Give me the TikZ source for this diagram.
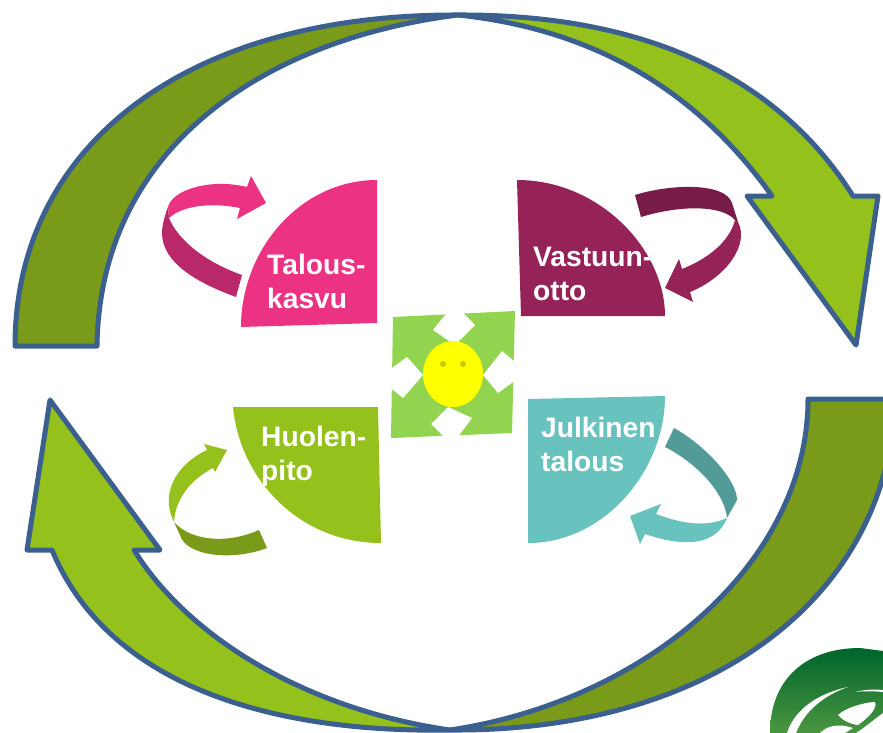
\documentclass[tikz,border=0pt]{standalone}
\usepackage{fontspec}
\setmainfont{Liberation Sans}
\definecolor{bandblue}{HTML}{3B5F8E}
\definecolor{leafgreen}{HTML}{94C11C}
\definecolor{darkleaf}{HTML}{7A9A1A}
\definecolor{rosepink}{HTML}{EC3282}
\definecolor{darkrose}{HTML}{B92868}
\definecolor{plum}{HTML}{952358}
\definecolor{darkplum}{HTML}{771C46}
\definecolor{seateal}{HTML}{68C2BE}
\definecolor{darkteal}{HTML}{539B98}
\definecolor{crossgreen}{HTML}{92D350}
\definecolor{faceyellow}{HTML}{FFFF00}
\definecolor{eyeyellow}{HTML}{C8C800}
\definecolor{marktop}{HTML}{00642B}
\definecolor{marklow}{HTML}{4A9640}
\tikzstyle{bigarrow} = [draw=bandblue,line width=5pt,line join=round]
\tikzstyle{pietext} = [text=white,font=\bfseries\fontsize{28.2}{33.5}\selectfont,align=left,anchor=north west,inner sep=0pt]

\begin{document}
\begin{tikzpicture}[x=1pt,y=-1pt]
	\useasboundingbox (0,0) rectangle (883,733);

	% First the four big arrows round the edge
	\path[bigarrow,fill=darkleaf] (15,346) .. controls (15,150) and (180,14) .. (458,15)
		.. controls (260,40) and (100,150) .. (97,346) -- cycle;
	\path[bigarrow,fill=leafgreen] (458,15) .. controls (650,14) and (780,80) .. (853,196)
		-- (878,196) -- (856,345) -- (747,196) -- (772,196)
		.. controls (700,95) and (600,30) .. (458,15) -- cycle;
	\path[bigarrow,fill=darkleaf] (808,399) -- (895,399) .. controls (890,590) and (720,732) .. (450,730)
		.. controls (650,700) and (808,560) .. (808,399) -- cycle;
	\path[bigarrow,fill=leafgreen] (450,730) .. controls (280,733) and (110,690) .. (52,550)
		-- (27,550) -- (50,400) -- (160,550) -- (134,550)
		.. controls (190,640) and (310,710) .. (450,730) -- cycle;

	% The quarter pieces
	\fill[rosepink] (241,327) .. controls (241,250) and (300,180) .. (377,180) -- (377,323) -- cycle;
	\fill[plum] (517,180) .. controls (600,180) and (665,250) .. (665,316) -- (521,316) -- cycle;
	\fill[leafgreen] (233,407) .. controls (240,480) and (300,543) .. (381,543) -- (378,407) -- cycle;
	\fill[seateal] (665,396) .. controls (665,470) and (605,543) .. (528,543) -- (528,399) -- cycle;

	\node[pietext] (talous) at (267,254) {Talous-\\kasvu};
	\node[pietext] (vastuun) at (533,247) {Vastuun-\\otto};
	\node[pietext] (huolen) at (261,426) {Huolen-\\pito};
	\node[pietext] (julkinen) at (541,417) {Julkinen\\talous};

	% Small turning arrows, dark back first
	\fill[darkrose] (236,297) .. controls (195,282) and (162,262) .. (162,233) .. controls (162,225) and (165,215) .. (168,207)
		-- (169,218) .. controls (178,240) and (205,262) .. (242,275) -- cycle;
	\fill[rosepink] (168,207) .. controls (172,190) and (210,178) .. (247,187) -- (251,176) -- (266,203) -- (237,219) -- (240,208)
		.. controls (210,202) and (182,206) .. (169,218) -- cycle;
	\fill[darkplum] (635,195) .. controls (670,184) and (725,182) .. (732,203) -- (738,222) -- (735,220)
		.. controls (722,205) and (680,205) .. (641,217) -- cycle;
	\fill[plum] (738,222) .. controls (750,245) and (725,278) .. (690,292) -- (693,302) -- (665,288) -- (679,259) -- (682,269)
		.. controls (710,258) and (730,240) .. (735,220) -- cycle;
	\fill[leafgreen] (174,522) .. controls (160,495) and (175,465) .. (207,450) -- (204,444) -- (227,450) -- (215,472) -- (213,468)
		.. controls (190,480) and (175,500) .. (174,522) -- cycle;
	\fill[darkleaf] (174,522) .. controls (190,540) and (225,545) .. (259,530) -- (267,548)
		.. controls (230,562) and (185,555) .. (180,535) -- cycle;
	\fill[darkteal] (674,428) .. controls (705,445) and (737,480) .. (737,500) -- (727,518)
		.. controls (725,495) and (700,465) .. (665,447) -- cycle;
	\fill[seateal] (727,518) .. controls (705,528) and (680,523) .. (656,514) -- (661,504) -- (630,516) -- (640,544) -- (645,534)
		.. controls (680,546) and (715,548) .. (727,518) -- cycle;

	% The middle
	\fill[crossgreen] (393,317) -- (515,311) -- (512,433) -- (391,438) -- cycle;
	\foreach \pa/\pb/\pc/\pd in {{(433,330)/(454,304)/(475,325)/(455,345)},
		{(378,378)/(407,357)/(423,375)/(403,398)},
		{(483,375)/(502,351)/(527,372)/(498,393)},
		{(431,424)/(448,407)/(472,418)/(452,445)}}
		\fill[white] \pa -- \pb -- \pc -- \pd -- cycle;
	\fill[faceyellow] (453,374) ellipse (30 and 33);
	\foreach \x in {443,463}
		\fill[eyeyellow] (\x,364) circle (3);

	% The corner mark
	\shade[top color=marktop,bottom color=marklow] (770,733) .. controls (770,680) and (805,648) .. (860,648)
		-- (883,651) -- (883,733) -- cycle;
	\fill[white] (787,733) .. controls (795,708) and (820,693) .. (848,687) .. controls (825,695) and (805,710) .. (796,733) -- cycle;
	\fill[white] (855,692) .. controls (862,690) and (872,689) .. (883,690) -- (883,692) .. controls (872,691) and (862,691) .. (855,692) -- cycle;
	\fill[white] (838,715) .. controls (845,708) and (865,702) .. (875,702) .. controls (878,708) and (868,718) .. (858,725) .. controls (850,724) and (842,720) .. (838,715) -- cycle;
	\fill[white] (820,733) .. controls (825,728) and (835,722) .. (853,728) -- (845,733) -- cycle;
	\fill[white] (862,729) -- (883,713) -- (883,733) -- (856,733) -- cycle;
\end{tikzpicture}
\end{document}
